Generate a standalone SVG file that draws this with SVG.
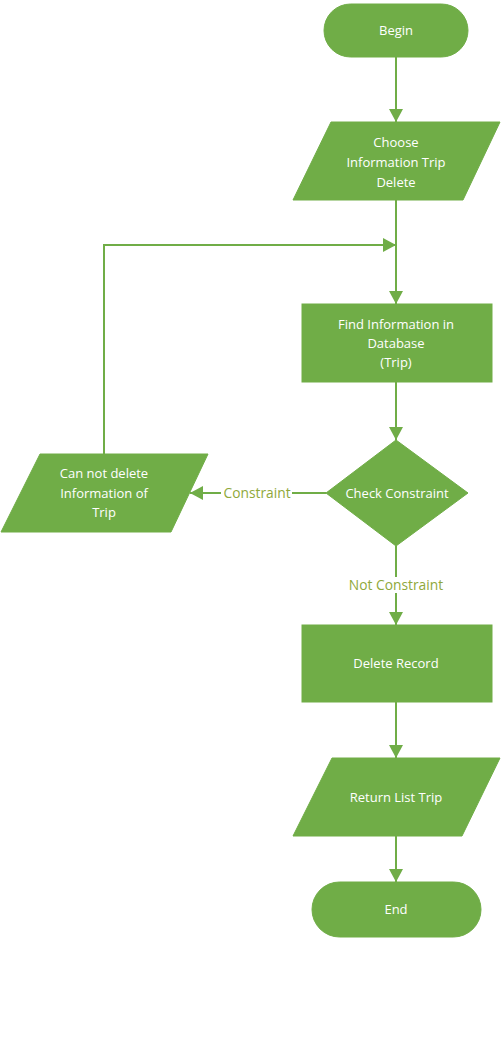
<svg xmlns="http://www.w3.org/2000/svg" width="501" height="1059" viewBox="0 0 501 1059">
<style>
.n{fill:#70AD47;stroke:#70AD47;stroke-width:1}
.t{font-family:"Open Sans","Noto Sans",sans-serif;font-size:13px;fill:#ffffff;text-anchor:middle}
.c{fill:none;stroke:#70AD47;stroke-width:2}
.l{font-family:"Open Sans","Noto Sans",sans-serif;font-size:13.8px;fill:#8FA83A;text-anchor:middle}
</style>
<defs>
<marker id="a" markerUnits="userSpaceOnUse" markerWidth="13" markerHeight="14" refX="13" refY="7" orient="auto">
<path d="M0,0 L13,7 L0,14 z" fill="#70AD47"/>
</marker>
</defs>
<rect width="501" height="1059" fill="#ffffff"/>
<g id="connectors">
<path class="c" d="M396,57 V122" marker-end="url(#a)"/>
<path class="c" d="M396,200 V304" marker-end="url(#a)"/>
<path class="c" d="M396,382 V440" marker-end="url(#a)"/>
<path class="c" d="M326,493 H190" marker-end="url(#a)"/>
<path class="c" d="M104,454 V245 H396" marker-end="url(#a)"/>
<path class="c" d="M396,546 V625" marker-end="url(#a)"/>
<path class="c" d="M396,702 V758" marker-end="url(#a)"/>
<path class="c" d="M396,836 V882" marker-end="url(#a)"/>
<rect x="221" y="485" width="71" height="16" fill="#ffffff"/>
<text class="l" x="257" y="493" dy="0.35em">Constraint</text>
<rect x="347" y="577" width="99" height="16" fill="#ffffff"/>
<text class="l" x="396" y="585" dy="0.35em">Not Constraint</text>
</g>
<g id="begin">
<rect class="n" x="324" y="4" width="144" height="53" rx="26.5"/>
<text class="t" x="396" y="30" dy="0.35em">Begin</text>
</g>
<g id="choose">
<polygon class="n" points="331,122 500,122 463,200 293,200"/>
<text class="t" x="396" y="142" dy="0.35em">Choose</text>
<text class="t" x="396" y="162" dy="0.35em">Information Trip</text>
<text class="t" x="396" y="182" dy="0.35em">Delete</text>
</g>
<g id="find">
<rect class="n" x="302" y="304" width="190" height="78"/>
<text class="t" x="396" y="324" dy="0.35em">Find Information in</text>
<text class="t" x="396" y="343" dy="0.35em">Database</text>
<text class="t" x="396" y="362" dy="0.35em">(Trip)</text>
</g>
<g id="check">
<polygon class="n" points="396,440 468,493 396,546 326,493"/>
<text class="t" x="397" y="493" dy="0.35em">Check Constraint</text>
</g>
<g id="cannot">
<polygon class="n" points="40,454 208,454 171,532 1,532"/>
<text class="t" x="104" y="473" dy="0.35em">Can not delete</text>
<text class="t" x="104" y="493" dy="0.35em">Information of</text>
<text class="t" x="104" y="512" dy="0.35em">Trip</text>
</g>
<g id="delete">
<rect class="n" x="302" y="625" width="190" height="77"/>
<text class="t" x="396" y="663" dy="0.35em">Delete Record</text>
</g>
<g id="return">
<polygon class="n" points="332,758 500,758 462,836 293,836"/>
<text class="t" x="396" y="797" dy="0.35em">Return List Trip</text>
</g>
<g id="end">
<rect class="n" x="312" y="882" width="169" height="55" rx="27.5"/>
<text class="t" x="396" y="909" dy="0.35em">End</text>
</g>
</svg>
